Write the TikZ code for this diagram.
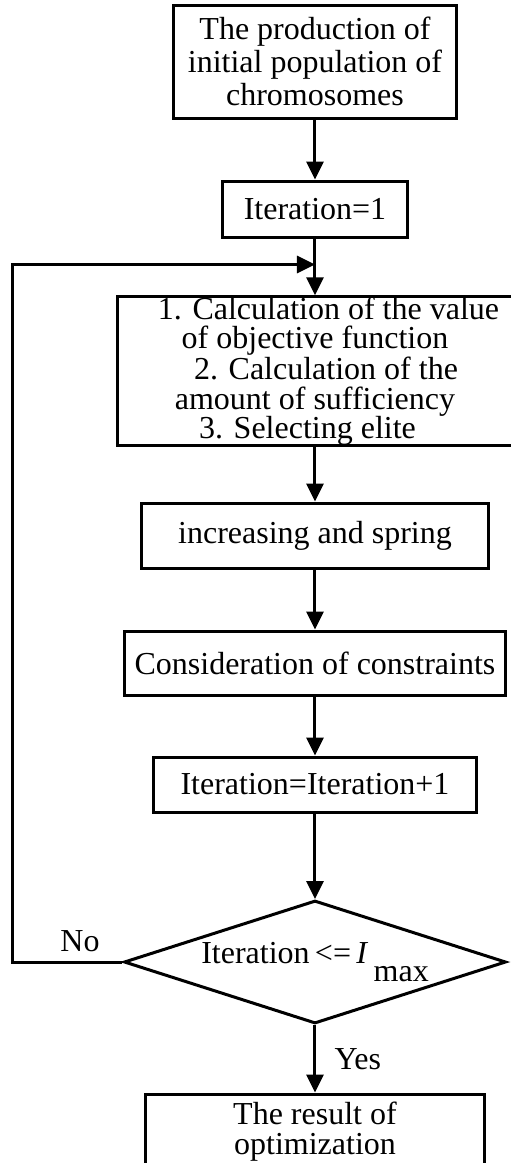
\documentclass[tikz,border=0pt]{standalone}
\usepackage{fontspec}
\setmainfont{Liberation Serif}
\usetikzlibrary{arrows.meta, positioning, shapes.geometric}

\begin{document}
\begin{tikzpicture}[
node distance=80pt,
font=\fontsize{16}{16.5}\selectfont,
block/.style={
    draw, line width=1.5pt, align=center, inner sep=0pt
},
test/.style={
    draw, diamond, line width=1.5pt, shape aspect=3.1, inner sep=0pt,
    minimum width=191pt, minimum height=61.5pt
},
arrow/.style={-{Triangle[length=9pt, width=8.5pt]}, line width=1.5pt},
tag/.style={inner sep=4.5pt}
]
\useasboundingbox (-157.5pt,30.75pt) rectangle (97.5pt,-550.75pt);

\node (init) [block, minimum width=141pt, minimum height=56.5pt] {The production of\\initial population of\\chromosomes};
\node (iter1) [below of=init, yshift=6.25pt, block, minimum width=92pt, minimum height=28pt] {Iteration=1};

\node (calc) [below of=iter1, yshift=-1pt, block, minimum width=197pt, minimum height=72pt,
    font=\fontsize{16}{14.6}\selectfont] {\hspace*{13.5pt}1. Calculation of the value\\of objective function\hspace*{4pt}\\\hspace*{11pt}2. Calculation of the\\amount of sufficiency\hspace*{13.5pt}\\3. Selecting elite\hspace*{7.5pt}};
\node (breed) [below of=calc, yshift=-2.25pt, block, minimum width=173.5pt, minimum height=32.5pt] {increasing and spring};
\node (limits) [below of=breed, yshift=16.25pt, block, minimum width=190pt, minimum height=32pt] {Consideration of constraints};
\node (iterinc) [below of=limits, yshift=19.25pt, block, minimum width=161.5pt, minimum height=27.5pt] {Iteration=Iteration+1};

\node (check) [below of=iterinc, yshift=-8.75pt, test] {Iteration\,<=\,\textit{I}\,\raisebox{-9pt}{max}};
\node (result) [below of=check, yshift=-4.75pt, block, minimum width=169pt, minimum height=37.5pt,
    font=\fontsize{16}{15}\selectfont] {The result of\\optimization};

\coordinate [below=13pt of iter1] (merge);

\draw[arrow] (init) -- (iter1);
\draw[arrow] (iter1) -- (calc);
\draw[arrow] (calc) -- (breed);
\draw[arrow] (breed) -- (limits);
\draw[arrow] (limits) -- (iterinc);
\draw[arrow] (iterinc) -- (check);

% loop back when the limit is not reached
\draw[arrow] (check.west) -- ++(-55pt,0) node[pos=0.386, above, tag] {No} |- (merge);
\draw[arrow] (check) -- node[right, tag, xshift=4.5pt] {Yes} (result);

\end{tikzpicture}
\end{document}
